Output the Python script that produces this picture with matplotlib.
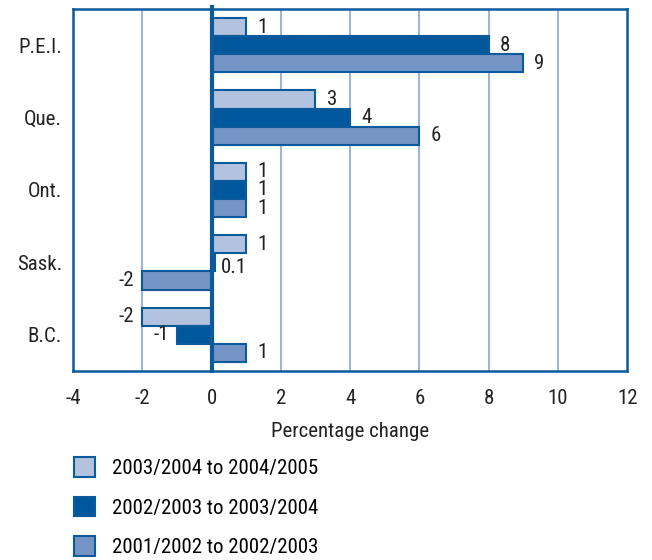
import matplotlib
matplotlib.use('Agg')
import matplotlib.pyplot as plt
from matplotlib.patches import Patch
import numpy as np

plt.rcParams['font.family'] = ['Roboto Condensed', 'DejaVu Sans']

# data
provinces = ['P.E.I.', 'Que.', 'Ont.', 'Sask.', 'B.C.']
series_names = ['2003/2004 to 2004/2005', '2002/2003 to 2003/2004', '2001/2002 to 2002/2003']
vals_0405 = [1, 3, 1, 1, -2]
vals_0304 = [8, 4, 1, 0.1, -1]
vals_0203 = [9, 6, 1, -2, 1]
lbl_0405 = ['1', '3', '1', '1', '-2']
lbl_0304 = ['8', '4', '1', '0.1', '-1']
lbl_0203 = ['9', '6', '1', '-2', '1']
xticks = [-4, -2, 0, 2, 4, 6, 8, 10, 12]

c_light = '#b3c2de'
c_dark = '#00579b'
c_mid = '#7494c6'
c_edge = '#0b5a9c'
c_grid = '#9db4dc'
c_text = '#222222'

fig = plt.figure(figsize=(6.52, 5.6), dpi=100)
ax = fig.add_axes([0.112, 0.3375, 0.85, 0.6465])

y = np.arange(len(provinces))
h = 0.25
all_vals = [vals_0405, vals_0304, vals_0203]
all_lbls = [lbl_0405, lbl_0304, lbl_0203]
colors = [c_light, c_dark, c_mid]
offsets = [-h, 0, h]

for vals, lbls, col, off in zip(all_vals, all_lbls, colors, offsets):
    ax.barh(y + off, vals, height=h, color=col, edgecolor=c_edge, linewidth=1.5, zorder=3)
    for yi, v, t in zip(y, vals, lbls):
        if v >= 0:
            # tiny bars get their label nudged down a bit, as in the original
            dy = -4 if abs(v) < 0.5 else 0
            dx = 4 if abs(v) < 0.5 else 8
            ax.annotate(t, (v, yi + off), xytext=(dx, dy), textcoords='offset points',
                        ha='left', va='center', fontsize=15, color=c_text)
        else:
            ax.annotate(t, (v, yi + off), xytext=(-6, 0), textcoords='offset points',
                        ha='right', va='center', fontsize=15, color=c_text)

ax.set_xlim(-4, 12)
ax.set_ylim(4.5, -0.5)
ax.set_xticks(xticks)
ax.set_xticklabels([str(t) for t in xticks])
ax.set_yticks(y)
ax.set_yticklabels(provinces)
ax.tick_params(length=0, labelsize=15, colors=c_text, pad=8)
ax.tick_params(axis='x', pad=13)
for t in xticks[1:-1]:
    ax.axvline(t, color=c_grid, lw=1.5, zorder=1)
ax.axvline(0, color=c_edge, lw=3, zorder=4, ymax=1.005, clip_on=False)
for s in ax.spines.values():
    s.set_color(c_edge)
    s.set_linewidth(1.8)
ax.set_xlabel('Percentage change', fontsize=15, color=c_text, labelpad=10)

handles = [Patch(facecolor=c, edgecolor=c_edge, linewidth=1.5) for c in colors]
fig.legend(handles, series_names, loc='upper left', bbox_to_anchor=(0.1, 0.198),
           frameon=False, fontsize=15, handlelength=1.05, handleheight=1.05,
           labelspacing=0.9, handletextpad=0.8, borderaxespad=0)

fig.savefig('out.png', dpi=100)
